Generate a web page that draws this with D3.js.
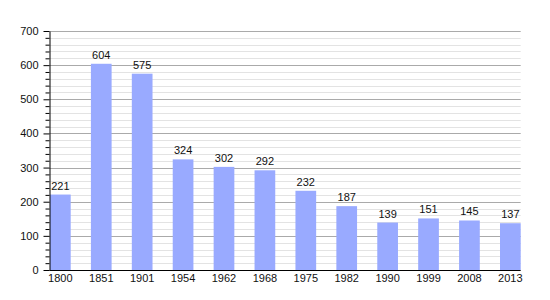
<!DOCTYPE html>
<html>
<head>
<meta charset="utf-8">
<script src="https://cdn.jsdelivr.net/npm/d3@7"></script>
<style>
  body { margin: 0; background: #fff; }
  svg text { font-family: "Liberation Sans", Arial, sans-serif; font-size: 11px; fill: #111; }
</style>
</head>
<body>
<div id="chart"></div>
<script>
// population by census year
const years = ['1800', '1851', '1901', '1954', '1962', '1968', '1975', '1982', '1990', '1999', '2008', '2013'];
const population = [221, 604, 575, 324, 302, 292, 232, 187, 139, 151, 145, 137];
const yTicks = [0, 100, 200, 300, 400, 500, 600, 700];

var width = 550,
    height = 300,
    plotLeft = 49.5,
    plotRight = 520.7,
    plotTop = 31,
    plotBottom = 270;

var svg = d3.select('#chart')
            .append('svg')
            .attr('width', width)
            .attr('height', height);

var x = d3.scaleBand()
          .domain(years)
          .range([plotLeft + 0.5, plotRight])
          .paddingInner(0.494)
          .paddingOuter(0);

var y = d3.scaleLinear()
          .domain([0, 700])
          .range([plotBottom, plotTop]);

// minor gridlines every 20
var minor = d3.range(20, 701, 20).filter(d => d % 100 != 0);
svg.append('g')
   .selectAll('line')
   .data(minor)
   .enter()
   .append('line')
   .attr('x1', plotLeft)
   .attr('x2', plotRight)
   .attr('y1', d => Math.round(y(d)) + 0.5)
   .attr('y2', d => Math.round(y(d)) + 0.5)
   .style('stroke', '#e3e3e3');

// major gridlines every 100
svg.append('g')
   .selectAll('line')
   .data(yTicks.slice(1))
   .enter()
   .append('line')
   .attr('x1', plotLeft)
   .attr('x2', plotRight)
   .attr('y1', d => Math.round(y(d)) + 0.5)
   .attr('y2', d => Math.round(y(d)) + 0.5)
   .style('stroke', '#aaaaaa');

// bars
svg.append('g')
   .selectAll('rect')
   .data(population)
   .enter()
   .append('rect')
   .attr('x', (d, i) => x(years[i]))
   .attr('y', d => y(d))
   .attr('width', x.bandwidth())
   .attr('height', d => plotBottom - y(d))
   .style('fill', '#99aaff');

// value labels
svg.append('g')
   .selectAll('text')
   .data(population)
   .enter()
   .append('text')
   .attr('x', (d, i) => x(years[i]) + x.bandwidth() / 2)
   .attr('y', d => y(d) - 5)
   .attr('text-anchor', 'middle')
   .text(d => d);

// y axis, minor ticks
svg.append('g')
   .attr('transform', 'translate(' + plotLeft + ',0)')
   .call(d3.axisLeft(y).tickValues(minor).tickSize(4).tickFormat(''))
   .call(g => g.select('.domain').remove());

// y axis, major ticks
svg.append('g')
   .attr('transform', 'translate(' + plotLeft + ',0)')
   .call(d3.axisLeft(y).tickValues(yTicks).tickSize(6).tickSizeOuter(0).tickPadding(5))
   .selectAll('text').style('font-size', '11px');

// x axis
svg.append('g')
   .attr('transform', 'translate(0,' + (plotBottom + 0.5) + ')')
   .call(d3.axisBottom(x).tickSize(0).tickPadding(4))
   .call(g => g.select('.domain').attr('d', 'M' + plotLeft + ',0H' + plotRight))
   .selectAll('text').style('font-size', '11px');

svg.selectAll('.domain, .tick line').style('stroke', '#000');
</script>
</body>
</html>
